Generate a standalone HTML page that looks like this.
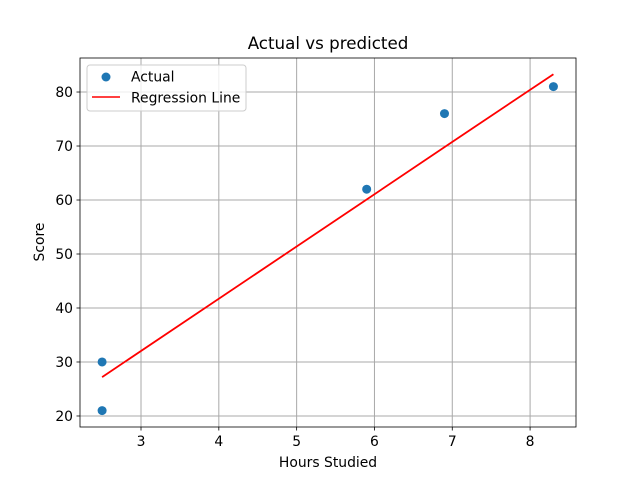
<!DOCTYPE html>
<html><head><meta charset="utf-8"><style>
body{margin:0;background:#fff;}
svg text{font-family:"DejaVu Sans","Liberation Sans",sans-serif;}
</style></head><body>
<svg id="chart" width="640" height="480" xmlns="http://www.w3.org/2000/svg">
<rect width="640" height="480" fill="#fff"/>
<g id="grid"></g>
<g id="marks"></g>
<rect x="80" y="58" width="496" height="369" fill="none" stroke="#000" stroke-width="0.8"/>
<g id="ticks"></g>
<text x="328" y="49" text-anchor="middle" font-size="16.7">Actual vs predicted</text>
<text x="328" y="467" text-anchor="middle" font-size="13.9">Hours Studied</text>
<text x="44" y="242" text-anchor="middle" font-size="13.9" transform="rotate(-90 44 242)">Score</text>
<g>
<rect x="87" y="65" width="159" height="46" rx="3" fill="#fff" fill-opacity="0.8" stroke="#ccc"/>
<circle cx="106" cy="77" r="4.5" fill="#1f77b4"/>
<text x="131" y="81.5" font-size="13.9">Actual</text>
<line x1="92" y1="97" x2="120" y2="97" stroke="red" stroke-width="1.5"/>
<text x="131" y="102.5" font-size="13.9">Regression Line</text>
</g>
</svg>
<script>
const xs=[2.5,2.5,5.9,6.9,8.3];
const ys=[30,21,62,76,81];
const predicted=[27.2,27.2,60.1,69.8,83.3];
const xTicks=[3,4,5,6,7,8];
const yTicks=[20,30,40,50,60,70,80];
const NS="http://www.w3.org/2000/svg";
const x0=2.216,x1=8.59,y0=17.96,y1=86.3;
const X=v=>80+(v-x0)/(x1-x0)*496;
const Y=v=>427-(v-y0)/(y1-y0)*369;
function mk(t,a,p){const e=document.createElementNS(NS,t);for(const k in a)e.setAttribute(k,a[k]);p.appendChild(e);return e;}
const g=document.getElementById('grid'),tk=document.getElementById('ticks'),m=document.getElementById('marks');
xTicks.forEach(v=>{const x=X(v);
const l=mk('line',{x1:x,x2:x,y1:58,y2:427,stroke:'#a8a8a8','stroke-width':1},g);


mk('line',{x1:x,x2:x,y1:427,y2:430.5,stroke:'#000','stroke-width':0.8},tk);
const t=mk('text',{x:x,y:446,'text-anchor':'middle','font-size':13.9},tk);t.textContent=v;

});
yTicks.forEach(v=>{const y=Y(v);
const l=mk('line',{x1:80,x2:576,y1:y,y2:y,stroke:'#a8a8a8','stroke-width':1},g);


mk('line',{x1:76.5,x2:80,y1:y,y2:y,stroke:'#000','stroke-width':0.8},tk);
const t=mk('text',{x:73,y:y+5,'text-anchor':'end','font-size':13.9},tk);t.textContent=v;

});
xs.forEach((v,i)=>{const c=mk('circle',{cx:X(v),cy:Y(ys[i]),r:4.5,fill:'#1f77b4'},m);

});
const pl=mk('polyline',{points:xs.map((v,i)=>X(v)+','+Y(predicted[i])).join(' '),fill:'none',stroke:'red','stroke-width':1.8},m);


</script>
</body></html>
